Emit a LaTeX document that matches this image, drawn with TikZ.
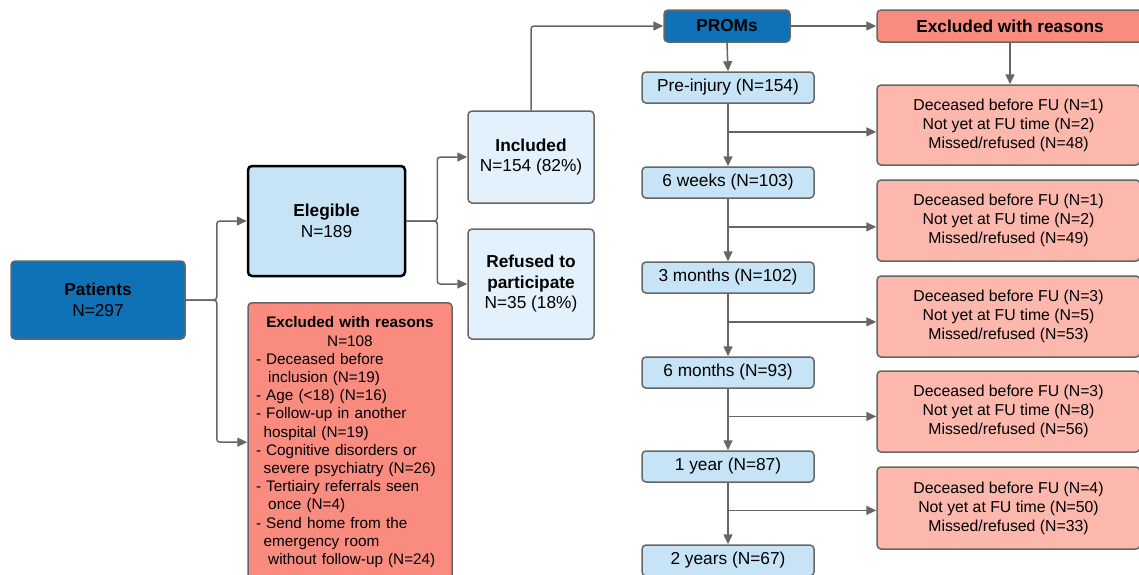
\documentclass[tikz,border=0pt]{standalone}
\usepackage{fontspec}
\setmainfont{Liberation Sans}
\usetikzlibrary{arrows.meta,calc}
\definecolor{darkblue}{HTML}{0F72B6}
\definecolor{lightblue}{HTML}{C6E4F6}
\definecolor{paleblue}{HTML}{E2F1FB}
\definecolor{salmonred}{HTML}{F98C7F}
\definecolor{pinkred}{HTML}{FDB8AE}
\definecolor{linegray}{HTML}{666666}

\begin{document}
\begin{tikzpicture}[x=1pt,y=-1pt,
    font=\fontsize{17.3}{20.5}\selectfont,
    box/.style={draw=linegray,line width=1.5pt,rounded corners=4pt,align=center,inner sep=2pt},
    darkbox/.style={box,fill=darkblue},
    bluebox/.style={box,fill=lightblue},
    palebox/.style={box,fill=paleblue},
    redbox/.style={box,fill=salmonred},
    pinkbox/.style={box,fill=pinkred,minimum width=263pt,font=\fontsize{15.8}{19}\selectfont},
    timebox/.style={bluebox,minimum width=172pt,minimum height=31pt},
    arr/.style={draw=linegray,line width=1.5pt,rounded corners=3pt,-{Triangle[length=10pt,width=9pt]}}
  ]
    \clip (0,0) rectangle (1139,574);
    % left part
    \node[darkbox,minimum width=174pt,minimum height=78pt] (patients) at (98,300) {\textbf{Patients}\\N=297};
    \node[bluebox,draw=black,line width=2.5pt,minimum width=157pt,minimum height=110pt] (elegible) at (326.5,221) {\textbf{Elegible}\\N=189};
    \node[redbox,anchor=north,text width=188pt,inner xsep=8pt,inner ysep=14pt,align=left,
        font=\fontsize{15.3}{18.2}\selectfont] (exclA) at (350,302) {%
        {\centering\textbf{Excluded with reasons}\\N=108\par}
        - Deceased before\\
        \hspace*{0.8em}inclusion (N=19)\\
        - Age (<18) (N=16)\\
        - Follow-up in another\\
        \hspace*{0.5em}hospital (N=19)\\
        - Cognitive disorders or\\
        \hspace*{0.5em}severe psychiatry (N=26)\\
        - Tertiairy referrals seen\\
        \hspace*{0.8em}once (N=4)\\
        - Send home from the\\
        \hspace*{0.5em}emergency room\\
        \hspace*{0.8em}without follow-up (N=24)};
    \node[palebox,minimum width=126pt,minimum height=92pt] (included) at (531,157) {\textbf{Included}\\N=154 (82\%)};
    \node[palebox,minimum width=126pt,minimum height=110pt] (refused) at (531,284) {\textbf{Refused to}\\\textbf{participate}\\N=35 (18\%)};
    % PROMs column
    \node[darkbox,minimum width=126pt,minimum height=32pt] (proms) at (727,26) {\textbf{PROMs}};
    \node[timebox] (pre) at (728,87.5) {Pre-injury (N=154)};
    \node[timebox] (w6) at (728,182.5) {6 weeks (N=103)};
    \node[timebox] (m3) at (728,277.5) {3 months (N=102)};
    \node[timebox] (m6) at (728,372.5) {6 months (N=93)};
    \node[timebox] (y1) at (728,466.5) {1 year (N=87)};
    \node[timebox] (y2) at (728,560.5) {2 years (N=67)};
    % excluded column
    \node[redbox,minimum width=266pt,minimum height=32pt] (exclB) at (1010,26) {\textbf{Excluded with reasons}};
    \node[pinkbox,minimum height=80pt] (r1) at (1008.5,125) {Deceased before FU (N=1)\\Not yet at FU time (N=2)\\Missed/refused (N=48)};
    \node[pinkbox,minimum height=81pt] (r2) at (1008.5,220.5) {Deceased before FU (N=1)\\Not yet at FU time (N=2)\\Missed/refused (N=49)};
    \node[pinkbox,minimum height=81pt] (r3) at (1008.5,316.5) {Deceased before FU (N=3)\\Not yet at FU time (N=5)\\Missed/refused (N=53)};
    \node[pinkbox,minimum height=81pt] (r4) at (1008.5,411.5) {Deceased before FU (N=3)\\Not yet at FU time (N=8)\\Missed/refused (N=56)};
    \node[pinkbox,minimum height=82pt] (r5) at (1008.5,508) {Deceased before FU (N=4)\\Not yet at FU time (N=50)\\Missed/refused (N=33)};
    % connectors
    \draw[arr] (patients.east) -- ++(31,0) |- (elegible.west);
    \draw[arr] (patients.east) -- ++(31,0) |- (exclA.west);
    \draw[arr] (elegible.east) -- ++(31,0) |- (included.west);
    \draw[arr] (elegible.east) -- ++(31,0) |- (refused.west);
    \draw[arr] (included.north) |- (proms.west);
    \draw[arr] (proms.east) -- (exclB.west);
    \draw[arr] (proms.south) -- (pre.north);
    \draw[arr] (exclB.south) -- (exclB.south |- r1.north);
    \draw[arr] (pre) -- (w6);
    \draw[arr] (w6) -- (m3);
    \draw[arr] (m3) -- (m6);
    \draw[arr] (m6) -- (y1);
    \draw[arr] (y1) -- (y2);
    \coordinate (b1) at ($(pre.south)!0.45!(w6.north)$);
    \coordinate (b2) at ($(w6.south)!0.45!(m3.north)$);
    \coordinate (b3) at ($(m3.south)!0.45!(m6.north)$);
    \coordinate (b4) at ($(m6.south)!0.45!(y1.north)$);
    \coordinate (b5) at ($(y1.south)!0.45!(y2.north)$);
    \draw[arr] (b1) -- (b1 -| r1.west);
    \draw[arr] (b2) -- (b2 -| r2.west);
    \draw[arr] (b3) -- (b3 -| r3.west);
    \draw[arr] (b4) -- (b4 -| r4.west);
    \draw[arr] (b5) -- (b5 -| r5.west);
\end{tikzpicture}
\end{document}
